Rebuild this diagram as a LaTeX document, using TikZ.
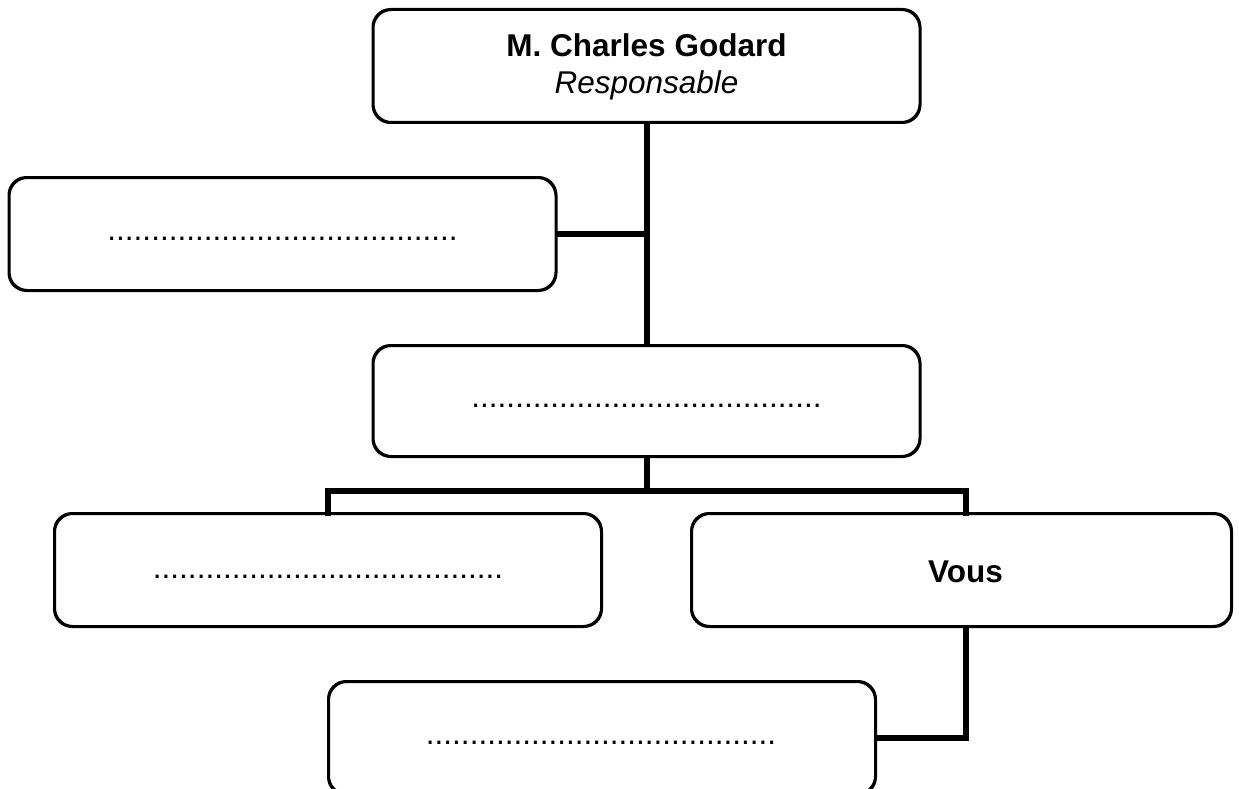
\documentclass[tikz,border=0pt]{standalone}
\usepackage{fontspec}
\setmainfont{Liberation Sans}
\begin{document}
\begin{tikzpicture}[x=1pt,y=-1pt,
  box/.style={draw=black, line width=2pt, rounded corners=18pt, fill=white, inner sep=0pt},
  wide/.style={box, minimum width=546pt, minimum height=112pt},
  link/.style={draw=black, line width=5.5pt},
  label/.style={font=\fontsize{31.5}{37}\selectfont, anchor=base, inner sep=0pt},
  dots/.style={font=\fontsize{31.5}{37}\selectfont, anchor=base, inner sep=0pt}]
\useasboundingbox (0,0) rectangle (1239,789);
\clip (0,0) rectangle (1239,789);
\coordinate (trunk) at (647,0);
\coordinate (bus) at (0,491);
\coordinate (rdrop) at (966,0);
\node[wide] (top) at (646.5,66) {};
\node[wide] (left) at (282.5,234) {};
\node[wide, minimum height=110pt] (mid) at (646.5,401) {};
\node[wide] (bl) at (328,570) {};
\node[wide, minimum width=539pt] (vous) at (961.5,570) {};
\node[wide] (bot) at (602,738) {};
\draw[link] (top.south -| trunk) -- (mid.north -| trunk);
\draw[link] (left.east) -- (left.east -| trunk);
\draw[link] (mid.south -| trunk) -- (bus -| trunk);
\draw[link, line cap=rect] (bl.north) -- (bus -| bl.north) -- (bus -| rdrop) -- (vous.north -| rdrop);
\draw[link] (vous.south -| rdrop) -- (bot.east -| rdrop) -- (bot.east);
% redraw box borders over connector ends
\foreach \n in {top,left,mid,bl,vous,bot}{
  \draw[line width=2pt, rounded corners=18pt] (\n.south west) rectangle (\n.north east);
}
% texts
\node[label] (name) at (646.5,57) {\textbf{M. Charles Godard}};
\node[label] (role) at (646.5,94) {\textit{Responsable}};
\node[dots] (leftdots) at (282.5,240) {........................................};
\node[dots] (middots) at (646.5,407) {........................................};
\node[dots] (bldots) at (328,578) {........................................};
\node[label] (voustext) at (965.5,582) {\textbf{Vous}};
\node[dots] (botdots) at (601,744) {........................................};
\end{tikzpicture}
\end{document}
